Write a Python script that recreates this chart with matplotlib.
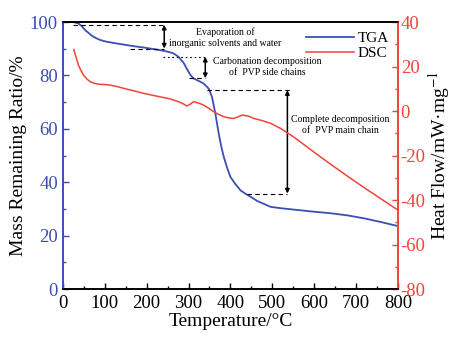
import matplotlib
matplotlib.use("Agg")
import matplotlib.pyplot as plt
from matplotlib.ticker import MultipleLocator

plt.rcParams['font.family'] = ['Liberation Serif', 'DejaVu Serif']
plt.rcParams['mathtext.fontset'] = 'stix'
plt.rcParams['axes.unicode_minus'] = False

# TGA curve (mass remaining, %)
tga_temp = [13, 25, 37, 45, 53, 61, 69, 79, 89, 100, 113, 132, 152, 172,
            192, 212, 232, 248, 264, 276, 288, 296, 304, 312, 324, 336,
            348, 356, 364, 372, 378, 384, 392, 400, 412, 424, 436, 448,
            464, 480, 496, 520, 544, 592, 640, 680, 719, 760, 800]
tga_mass = [100, 100, 99.5, 98.5, 97, 96, 94.9, 94, 93.3, 92.8, 92.4, 91.9,
            91.4, 90.9, 90.5, 90, 89.5, 89, 88.3, 87, 84.8, 82.5, 80.3, 78.9,
            78, 77, 75.1, 72, 65.8, 58.3, 53.5, 49.6, 45.5, 42, 39.3, 37,
            35.7, 34.6, 33, 31.9, 30.8, 30.3, 29.9, 29.1, 28.4, 27.6, 26.5,
            25.1, 23.6]

# DSC curve (heat flow, mW/mg)
dsc_temp = [26, 31, 37, 43, 49, 57, 65, 75, 85, 100, 113, 132, 152, 172,
            192, 212, 232, 256, 276, 288, 296, 304, 312, 324, 336, 348,
            360, 372, 384, 396, 408, 418, 428, 442, 456, 476, 496, 520,
            550, 600, 640, 680, 720, 760, 800]
dsc_flow = [27.7, 24.5, 20.7, 18.3, 16.2, 14.5, 13.2, 12.5, 12.1, 11.9,
            11.7, 10.9, 9.9, 9, 8, 7.2, 6.4, 5.5, 4.2, 3.2, 2.3, 3.1, 4.2,
            3.6, 2.7, 1.3, -0.3, -1.5, -2.5, -3.1, -3.3, -2.6, -1.8, -2.2,
            -3.3, -4.3, -5.5, -7.8, -11.5, -18.5, -24, -29.3, -34.5, -39.5,
            -44.5]

# stage annotations: arrow x, mass at top, mass at bottom
stage_x = [242, 340, 536]
stage_top = [99, 87, 74.5]
stage_bottom = [90.1, 79, 35.8]
stage_labels = ['Evaporation of\ninorganic solvents and water',
                'Carbonation decomposition\nof  PVP side chains',
                'Complete decomposition\nof  PVP main chain']

blue = '#3a4fb4'
red = '#f2433a'

fig = plt.figure(figsize=(4.59, 3.45), dpi=100)
ax = fig.add_axes([0.137, 0.162, 0.730, 0.774])
ax2 = ax.twinx()

l1, = ax.plot(tga_temp, tga_mass, color=blue, lw=1.3, label='TGA')
l2, = ax2.plot(dsc_temp, dsc_flow, color=red, lw=1.1, label='DSC')

# guide lines for each stage
dash = dict(color='black', lw=0.8, ls=(0, (4, 3)))
ax.plot([25, 242], [99, 99], **dash)
ax.plot([160, 242], [90.1, 90.1], **dash)
ax.plot([240, 344], [87, 87], color='black', lw=0.8, ls=(0, (1.5, 2.5)))
ax.plot([300, 340], [79, 79], **dash)
ax.plot([344, 543], [74.5, 74.5], **dash)
ax.plot([440, 536], [35.8, 35.8], **dash)

for x, top, bot in zip(stage_x, stage_top, stage_bottom):
    ax.annotate('', xy=(x, bot), xytext=(x, top),
                arrowprops=dict(arrowstyle='<|-|>', color='black', lw=1.1,
                                mutation_scale=6, shrinkA=0, shrinkB=0))

ax.text(388, 94.3, stage_labels[0], fontsize=7, ha='center', va='center',
        linespacing=1.25)
ax.text(487, 83.1, stage_labels[1], fontsize=7, ha='center', va='center',
        linespacing=1.25)
ax.text(663, 61.4, stage_labels[2], fontsize=7, ha='center', va='center',
        linespacing=1.25)

ax.set_xlim(0, 800)
ax.set_ylim(0, 100)
ax2.set_ylim(-80, 40)

ax.xaxis.set_major_locator(MultipleLocator(100))
ax.xaxis.set_minor_locator(MultipleLocator(50))
ax.yaxis.set_major_locator(MultipleLocator(20))
ax.yaxis.set_minor_locator(MultipleLocator(10))
ax2.yaxis.set_major_locator(MultipleLocator(20))
ax2.yaxis.set_minor_locator(MultipleLocator(10))

ax.tick_params(axis='x', which='both', direction='in', labelsize=13.5,
               pad=4)
ax.tick_params(axis='x', which='major', length=4, width=1)
ax.tick_params(axis='x', which='minor', length=2.5, width=1)
ax.tick_params(axis='y', which='both', direction='in', colors=blue,
               labelsize=13.5, width=1)
ax.tick_params(axis='y', which='major', length=4)
ax.tick_params(axis='y', which='minor', length=2.5)
ax2.tick_params(axis='y', which='both', direction='in', colors=red,
                labelsize=13.5, width=1, pad=2)
ax2.tick_params(axis='y', which='major', length=4)
ax2.tick_params(axis='y', which='minor', length=2.5)
ax.tick_params(axis='x', top=False)

for a in (ax, ax2):
    a.spines['left'].set_color(blue)
    a.spines['right'].set_color(red)
    a.spines['top'].set_color('black')
    a.spines['bottom'].set_color('black')
    for s in a.spines.values():
        s.set_linewidth(1.2)

ax.set_xlabel('Temperature/°C', fontsize=14, labelpad=1)
ax.set_ylabel('Mass Remaining Ratio/%', fontsize=14, labelpad=2)
ax2.set_ylabel('Heat Flow/mW·mg$^{-1}$', fontsize=14, labelpad=0)

ax.legend([l1, l2], ['TGA', 'DSC'], loc='upper right', frameon=False,
          fontsize=11, handlelength=3.2, handletextpad=0.2,
          labelspacing=0.1, borderaxespad=0.2)

fig.savefig('out.png', dpi=100)
